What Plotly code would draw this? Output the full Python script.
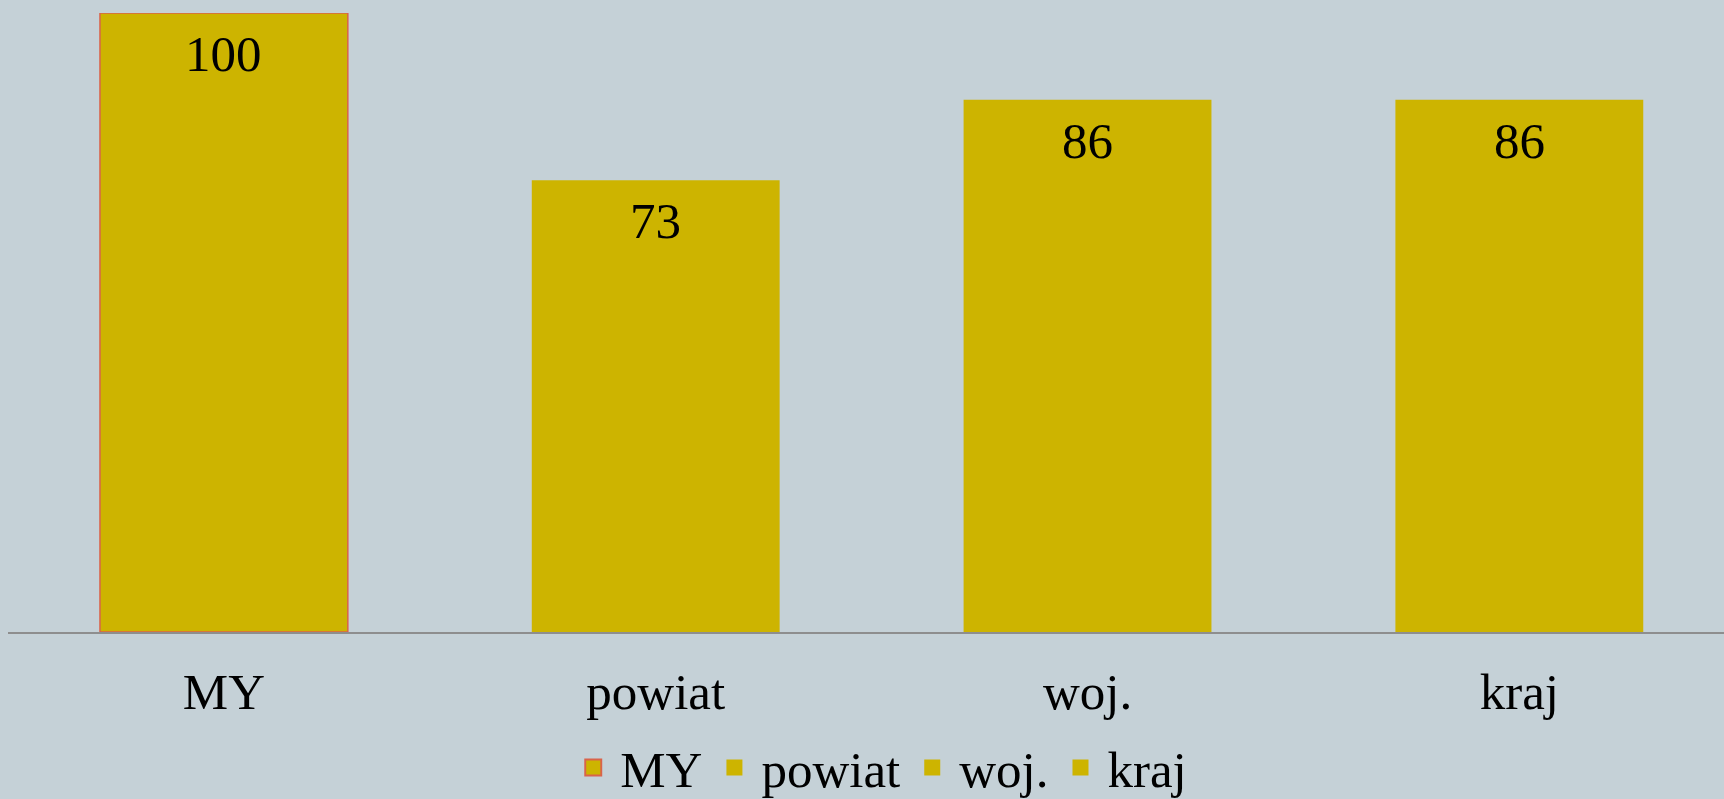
import plotly.graph_objects as go

categories = ["MY", "powiat", "woj.", "kraj"]
values = [100, 73, 86, 86]
bar_color = "#CDB400"
outline_colors = ["#D9634A", bar_color, bar_color, bar_color]
outline_widths = [1.5, 0, 0, 0]

FONT = "Liberation Serif"
FS = 51
BG = "#C5D1D7"

fig = go.Figure()
for cat, val, oc, ow in zip(categories, values, outline_colors, outline_widths):
    fig.add_trace(go.Bar(
        x=[cat], y=[val], name=cat, showlegend=False,
        marker=dict(color=bar_color, line=dict(color=oc, width=ow)),
        hoverinfo="x+y",
    ))
    fig.add_annotation(
        x=cat, y=val, text=str(val), showarrow=False,
        yanchor="middle", yshift=-41,
        font=dict(family=FONT, size=FS, color="black"),
    )

# legend entries (larger square swatches)
for cat, oc, ow in zip(categories, outline_colors, outline_widths):
    fig.add_trace(go.Scatter(
        x=[None], y=[None], name=cat, mode="markers",
        marker=dict(symbol="square", size=22, color=bar_color,
                    line=dict(color=oc, width=ow * 1.3)),
    ))

fig.update_layout(
    width=1724, height=799,
    paper_bgcolor=BG, plot_bgcolor=BG,
    margin=dict(l=8, r=0, t=13, b=167),
    barmode="relative", bargap=0.426,
    font=dict(family=FONT, size=FS, color="black"),
    showlegend=True,
    legend=dict(
        orientation="h", xref="container", yref="container",
        x=0.51, y=0.039, xanchor="center", yanchor="middle",
        font=dict(family=FONT, size=FS, color="black"),
        bgcolor="rgba(0,0,0,0)", itemwidth=44, traceorder="normal",
        itemsizing="trace",
    ),
    xaxis=dict(
        range=[-0.5, 3.474], showgrid=False, zeroline=False,
        showline=True, linecolor="#8E8E8E", linewidth=1.5,
        ticks="", ticklabelstandoff=14,
        tickfont=dict(family=FONT, size=FS, color="black"),
    ),
    yaxis=dict(
        range=[0, 100], visible=False, showgrid=False, zeroline=False,
    ),
)

fig.write_html("out.html", config={"displayModeBar": False},
               post_script="document.body.style.margin='0';")
